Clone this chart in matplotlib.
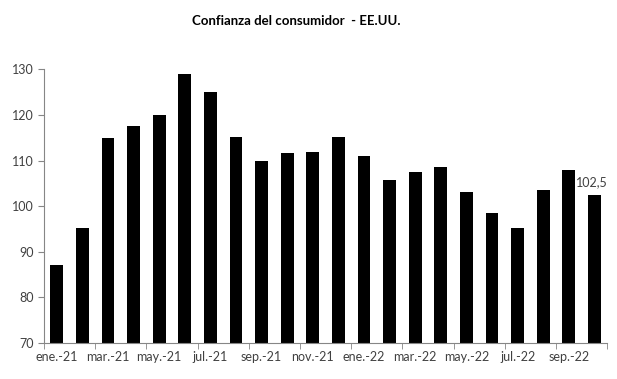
import numpy as np
import matplotlib.pyplot as plt

# Monthly consumer confidence index, US (Jan-21 .. Oct-22)
months = ['ene.-21', 'feb.-21', 'mar.-21', 'abr.-21', 'may.-21', 'jun.-21',
          'jul.-21', 'ago.-21', 'sep.-21', 'oct.-21', 'nov.-21', 'dic.-21',
          'ene.-22', 'feb.-22', 'mar.-22', 'abr.-22', 'may.-22', 'jun.-22',
          'jul.-22', 'ago.-22', 'sep.-22', 'oct.-22']
values = [87.1, 95.2, 115.0, 117.6, 120.1, 128.9, 125.1, 115.2, 109.8, 111.6,
          111.9, 115.2, 111.1, 105.7, 107.6, 108.6, 103.2, 98.4, 95.3, 103.6,
          108.0, 102.5]
yticks = [70, 80, 90, 100, 110, 120, 130]

plt.rcParams['font.family'] = ['Lato', 'DejaVu Sans']

fig = plt.figure(figsize=(6.17, 3.79), dpi=100)
ax = fig.add_axes([0.0713, 0.095, 0.9127, 0.722])

x = np.arange(len(values))
ax.bar(x, values, width=0.5, color='black', bottom=0)

ax.set_ylim(70, 130)
ax.set_xlim(-0.5, len(values) - 0.5)
ax.set_yticks(yticks)
ax.set_yticklabels([str(v) for v in yticks])

# labels every two months, tick marks at category boundaries
ax.set_xticks(x[::2])
ax.set_xticklabels(months[::2])
ax.set_xticks(np.arange(-0.5, len(values), 2), minor=True)
ax.tick_params(axis='x', which='major', length=0, pad=6)
ax.tick_params(axis='x', which='minor', length=4, color='#868686')
ax.tick_params(axis='y', length=4, color='#868686')
ax.tick_params(labelsize=9, labelcolor='#404040')

for s in ['top', 'right']:
    ax.spines[s].set_visible(False)
for s in ['left', 'bottom']:
    ax.spines[s].set_color('#868686')
    ax.spines[s].set_linewidth(0.8)

# value label on the last bar
ax.annotate(f'{values[-1]:.1f}'.replace('.', ','), (x[-1], values[-1]),
            xytext=(-1.5, 5), textcoords='offset points', ha='center',
            va='bottom', fontsize=9, color='#404040')

fig.text(0.48, 0.945, 'Confianza del consumidor  - EE.UU.', ha='center',
         va='center', fontsize=9.5, fontweight='bold')

fig.savefig('out.png', dpi=100, facecolor='white')
